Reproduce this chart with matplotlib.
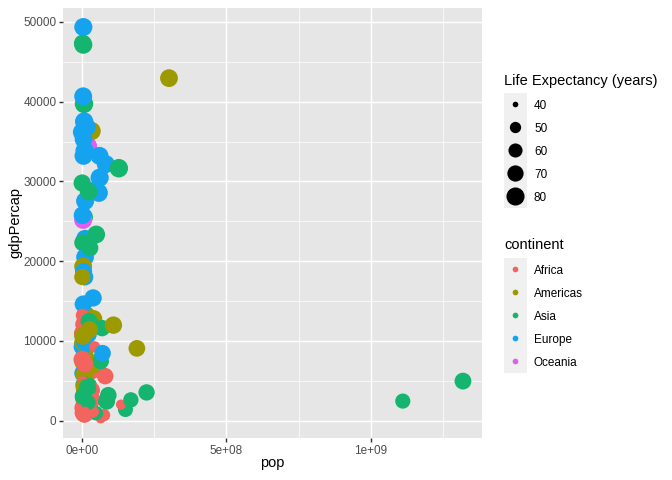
import matplotlib
matplotlib.use("Agg")
import matplotlib.pyplot as plt
import numpy as np
from matplotlib.patches import Rectangle

plt.rcParams["font.family"] = ["Liberation Sans", "DejaVu Sans"]

# gapminder, year 2007: country, life expectancy, population, gdp per capita
africa_country = ["Algeria", "Angola", "Benin", "Botswana", "Burkina Faso", "Burundi",
                  "Cameroon", "Central African Republic", "Chad", "Comoros",
                  "Congo, Dem. Rep.", "Congo, Rep.", "Cote d'Ivoire", "Djibouti", "Egypt",
                  "Equatorial Guinea", "Eritrea", "Ethiopia", "Gabon", "Gambia", "Ghana",
                  "Guinea", "Guinea-Bissau", "Kenya", "Lesotho", "Liberia", "Libya",
                  "Madagascar", "Malawi", "Mali", "Mauritania", "Mauritius", "Morocco",
                  "Mozambique", "Namibia", "Niger", "Nigeria", "Reunion", "Rwanda",
                  "Sao Tome and Principe", "Senegal", "Sierra Leone", "Somalia",
                  "South Africa", "Sudan", "Swaziland", "Tanzania", "Togo", "Tunisia",
                  "Uganda", "Zambia", "Zimbabwe"]
africa_life = [72.301, 42.731, 56.728, 50.728, 52.295, 49.580, 50.430, 44.741, 50.651,
               65.152, 46.462, 55.322, 48.328, 54.791, 71.338, 51.579, 58.040, 52.947,
               56.735, 59.448, 60.022, 56.007, 46.388, 54.110, 42.592, 45.678, 73.952,
               59.443, 48.303, 54.467, 64.164, 72.801, 71.164, 42.082, 52.906, 56.867,
               46.859, 76.442, 46.242, 65.528, 63.062, 42.568, 48.159, 49.339, 58.556,
               39.613, 52.517, 58.420, 73.923, 51.542, 42.384, 43.487]
africa_pop = [33333216, 12420476, 8078314, 1639131, 14326203, 8390505, 17696293, 4369038,
              10238807, 710960, 64606759, 3800610, 18013409, 496374, 80264543, 551201,
              4906585, 76511887, 1454867, 1688359, 22873338, 9947814, 1472041, 35610177,
              2012649, 3193942, 6036914, 19167654, 13327079, 12031795, 3270065, 1250882,
              33757175, 19951656, 2055080, 12894865, 135031164, 798094, 8860588, 199579,
              12267493, 6144562, 9118773, 43997828, 42292929, 1133066, 38139640, 5701579,
              10276158, 29170398, 11746035, 12311143]
africa_gdp = [6223.367, 4797.231, 1441.285, 12569.852, 1217.033, 430.071, 2042.095,
              706.016, 1704.064, 986.148, 277.552, 3632.558, 1544.750, 2082.482, 5581.181,
              12154.090, 641.369, 690.806, 13206.485, 752.750, 1327.609, 942.654, 579.232,
              1463.249, 1569.331, 414.507, 12057.499, 1044.770, 759.350, 1042.582,
              1803.152, 10956.991, 3820.175, 823.686, 4811.060, 619.677, 2013.977,
              7670.123, 863.089, 1598.435, 1712.472, 862.541, 926.142, 9269.658, 2602.395,
              4513.481, 1107.482, 882.970, 7092.923, 1056.380, 1271.212, 469.709]

americas_country = ["Argentina", "Bolivia", "Brazil", "Canada", "Chile", "Colombia",
                    "Costa Rica", "Cuba", "Dominican Republic", "Ecuador", "El Salvador",
                    "Guatemala", "Haiti", "Honduras", "Jamaica", "Mexico", "Nicaragua",
                    "Panama", "Paraguay", "Peru", "Puerto Rico", "Trinidad and Tobago",
                    "United States", "Uruguay", "Venezuela"]
americas_life = [75.320, 65.554, 72.390, 80.653, 78.553, 72.889, 78.782, 78.273, 72.235,
                 74.994, 71.878, 70.259, 60.916, 70.198, 72.567, 76.195, 72.899, 75.537,
                 71.752, 71.421, 78.746, 69.819, 78.242, 76.384, 73.747]
americas_pop = [40301927, 9119152, 190010647, 33390141, 16284741, 44227550, 4133884,
                11416987, 9319622, 13755680, 6939688, 12572928, 8502814, 7483763, 2780132,
                108700891, 5675356, 3242173, 6667147, 28674757, 3942491, 1056608,
                301139947, 3447496, 26084662]
americas_gdp = [12779.380, 3822.137, 9065.801, 36319.235, 13171.639, 7006.580, 9645.061,
                8948.103, 6025.375, 6873.262, 5728.354, 5186.050, 1201.637, 3548.331,
                7320.880, 11977.575, 2749.321, 9809.186, 4172.838, 7408.906, 19328.709,
                18008.509, 42951.653, 10611.463, 11415.806]

asia_country = ["Afghanistan", "Bahrain", "Bangladesh", "Cambodia", "China",
                "Hong Kong, China", "India", "Indonesia", "Iran", "Iraq", "Israel", "Japan",
                "Jordan", "Korea, Dem. Rep.", "Korea, Rep.", "Kuwait", "Lebanon", "Malaysia",
                "Mongolia", "Myanmar", "Nepal", "Oman", "Pakistan", "Philippines",
                "Saudi Arabia", "Singapore", "Sri Lanka", "Syria", "Taiwan", "Thailand",
                "Vietnam", "West Bank and Gaza", "Yemen, Rep."]
asia_life = [43.828, 75.635, 64.062, 59.723, 72.961, 82.208, 64.698, 70.650, 70.964,
             59.545, 80.745, 82.603, 72.535, 67.297, 78.623, 77.588, 71.993, 74.241,
             66.803, 62.069, 63.785, 75.640, 65.483, 71.688, 72.777, 79.972, 72.396,
             74.143, 78.400, 70.616, 74.249, 73.422, 62.698]
asia_pop = [31889923, 708573, 150448339, 14131858, 1318683096, 6980412, 1110396331,
            223547000, 69453570, 27499638, 6426679, 127467972, 6053193, 23301725,
            49044790, 2505559, 3921278, 24821286, 2874127, 47761980, 28901790, 3204897,
            169270617, 91077287, 27601038, 4553009, 20378239, 19314747, 23174294,
            65068149, 85262356, 4018332, 22211743]
asia_gdp = [974.580, 29796.048, 1391.254, 1713.779, 4959.115, 39724.979, 2452.210,
            3540.652, 11605.714, 4471.062, 25523.277, 31656.068, 4519.461, 1593.065,
            23348.140, 47306.990, 10461.059, 12451.656, 3095.772, 944.000, 1091.360,
            22316.193, 2605.948, 3190.481, 21654.832, 47143.180, 3970.095, 4184.548,
            28718.277, 7458.396, 2441.577, 3025.350, 2280.770]

europe_country = ["Albania", "Austria", "Belgium", "Bosnia and Herzegovina", "Bulgaria",
                  "Croatia", "Czech Republic", "Denmark", "Finland", "France", "Germany",
                  "Greece", "Hungary", "Iceland", "Ireland", "Italy", "Montenegro",
                  "Netherlands", "Norway", "Poland", "Portugal", "Romania", "Serbia",
                  "Slovak Republic", "Slovenia", "Spain", "Sweden", "Switzerland",
                  "Turkey", "United Kingdom"]
europe_life = [76.423, 79.829, 79.441, 74.852, 73.005, 75.748, 76.486, 78.332, 79.313,
               80.657, 79.406, 79.483, 73.338, 81.757, 78.885, 80.546, 74.543, 79.762,
               80.196, 75.563, 78.098, 72.476, 74.002, 74.663, 77.926, 80.941, 80.884,
               81.701, 71.777, 79.425]
europe_pop = [3600523, 8199783, 10392226, 4552198, 7322858, 4493312, 10228744, 5468120,
              5238460, 61083916, 82400996, 10706290, 9956108, 301931, 4109086, 58147733,
              684736, 16570613, 4627926, 38518241, 10642836, 22276056, 10150265, 5447502,
              2009245, 40448191, 9031088, 7554661, 71158647, 60776238]
europe_gdp = [5937.030, 36126.493, 33692.605, 7446.299, 10680.793, 14619.223, 22833.309,
              35278.419, 33207.084, 30470.017, 32170.374, 27538.412, 18008.944, 36180.789,
              40675.996, 28569.720, 9253.896, 36797.933, 49357.190, 15389.925, 20509.648,
              10808.476, 9786.535, 18678.314, 25768.258, 28821.064, 33859.748, 37506.419,
              8458.276, 33203.261]

oceania_country = ["Australia", "New Zealand"]
oceania_life = [81.235, 80.204]
oceania_pop = [20434176, 4115771]
oceania_gdp = [34435.367, 25185.009]

continents = ["Africa", "Americas", "Asia", "Europe", "Oceania"]
continent_colors = ["#F2645D", "#9C9A00", "#16B56F", "#15A3F0", "#E05FEF"]
size_breaks = [40, 50, 60, 70, 80]

# stack everything, then sort by country so points overlap as in the source
country = africa_country + americas_country + asia_country + europe_country + oceania_country
life = np.array(africa_life + americas_life + asia_life + europe_life + oceania_life)
pop = np.array(africa_pop + americas_pop + asia_pop + europe_pop + oceania_pop, dtype=float)
gdp = np.array(africa_gdp + americas_gdp + asia_gdp + europe_gdp + oceania_gdp)
cont_idx = np.array([0] * len(africa_country) + [1] * len(americas_country)
                    + [2] * len(asia_country) + [3] * len(europe_country)
                    + [4] * len(oceania_country))
order = np.argsort(country, kind="stable")

life_min, life_max = life.min(), life.max()


def marker_area(values):
    """ggplot-like area scale (range 1..6) turned into scatter s."""
    size = 1 + 5 * np.sqrt((np.asarray(values, dtype=float) - life_min) / (life_max - life_min))
    fontsize = size * 72.27 / 25.4 + 0.5 * 96 / 25.4 / 2
    diam_pt = (fontsize + 0.5) * 0.75
    return diam_pt ** 2


W, H = 672, 480
fig = plt.figure(figsize=(7, 5), dpi=96)
left, right, top, bottom = 63, 482, 7.5, 438
ax = fig.add_axes([left / W, 1 - bottom / H, (right - left) / W, (bottom - top) / H])
ax.set_facecolor("#E6E6E6")
for sp in ax.spines.values():
    sp.set_visible(False)

colors = np.array(continent_colors)[cont_idx]
ax.scatter(pop[order], gdp[order], s=marker_area(life[order]), c=colors[order],
           edgecolors="none", zorder=3)

xr = pop.max() - pop.min()
ax.set_xlim(pop.min() - 0.05 * xr, pop.max() + 0.05 * xr)
yr = gdp.max() - gdp.min()
ax.set_ylim(gdp.min() - 0.05 * yr, gdp.max() + 0.05 * yr)

ax.set_xticks([0, 5e8, 1e9])
ax.set_xticklabels(["0e+00", "5e+08", "1e+09"])
ax.set_xticks([2.5e8, 7.5e8, 1.25e9], minor=True)
ax.set_yticks(np.arange(0, 50001, 10000))
ax.set_yticklabels([str(v) for v in range(0, 50001, 10000)])
ax.set_yticks(np.arange(5000, 50000, 10000), minor=True)
ax.grid(which="major", color="white", linewidth=1.07)
ax.grid(which="minor", color="white", linewidth=0.53)
ax.set_axisbelow(True)
ax.tick_params(which="major", length=2.75, width=1.07, color="#333333",
               labelsize=8.8, labelcolor="#4D4D4D", pad=2.2)
ax.tick_params(which="minor", length=0)

ax.set_xlabel("pop", fontsize=11)
ax.xaxis.label.set_va("baseline")
ax.xaxis.set_label_coords(0.5, (bottom - 467) / (bottom - top))
ax.set_ylabel("gdpPercap", fontsize=11)
ax.yaxis.label.set_va("center")
ax.yaxis.set_label_coords((15 - left) / (right - left), 0.5)

# legends, drawn in pixel coordinates
lax = fig.add_axes([0, 0, 1, 1], zorder=5)
lax.set_xlim(0, W)
lax.set_ylim(H, 0)
lax.axis("off")

key_x, key_w, key_h = 504, 23, 23
lax.text(key_x, 84.5, "Life Expectancy (years)", fontsize=11, va="baseline", ha="left")
lax.add_patch(Rectangle((key_x, 93), key_w, key_h * len(size_breaks),
                        facecolor="#F0F0F0", edgecolor="none"))
for i, b in enumerate(size_breaks):
    cy = 93 + key_h * (i + 0.5)
    lax.scatter([key_x + key_w / 2], [cy], s=marker_area([b]), c="black", edgecolors="none")
    lax.text(534, cy + 4.2, str(b), fontsize=8.8, va="baseline", ha="left")

lax.text(key_x, 249, "continent", fontsize=11, va="baseline", ha="left")
lax.add_patch(Rectangle((key_x, 258), key_w, key_h * len(continents),
                        facecolor="#F0F0F0", edgecolor="none"))
dot = ((1.5 * 72.27 / 25.4 + 0.945) + 0.5) * 0.75
for i, (name, col) in enumerate(zip(continents, continent_colors)):
    cy = 258 + key_h * (i + 0.5)
    lax.scatter([key_x + key_w / 2], [cy], s=dot ** 2, c=col, edgecolors="none")
    lax.text(534, cy + 4.2, name, fontsize=8.8, va="baseline", ha="left")

fig.savefig("out.png", dpi=96)
